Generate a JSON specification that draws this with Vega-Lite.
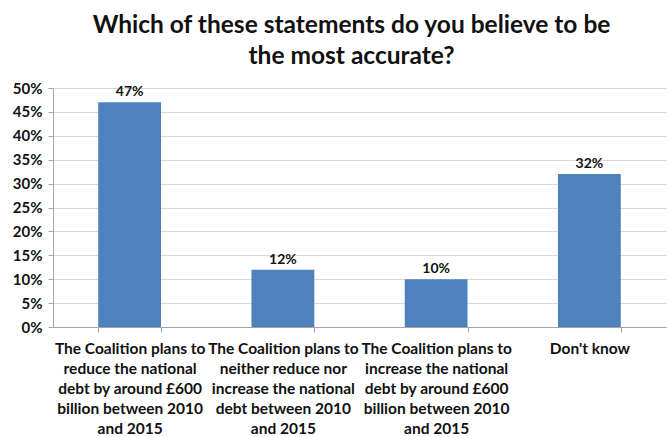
{
  "$schema": "https://vega.github.io/schema/vega-lite/v6.json",
  "width": 613,
  "height": 239,
  "autosize": {"type": "none"},
  "padding": {"left": 53, "top": 88, "right": 1, "bottom": 110},
  "background": "white",
  "title": {
    "text": ["Which of these statements do you believe to be", "the most accurate?"],
    "font": "Lato",
    "fontSize": 24.5,
    "fontWeight": "bold",
    "color": "#111111",
    "lineHeight": 31,
    "anchor": "middle",
    "dx": -8,
    "offset": 12
  },
  "data": {
    "values": [
      {"statement": "The Coalition plans to|reduce the national|debt by around £600|billion between 2010|and 2015", "share": 0.47, "order": 1},
      {"statement": "The Coalition plans to|neither reduce nor|increase the national|debt between 2010|and 2015", "share": 0.12, "order": 2},
      {"statement": "The Coalition plans to|increase the national|debt by around £600|billion between 2010|and 2015", "share": 0.10, "order": 3},
      {"statement": "Don't know", "share": 0.32, "order": 4}
    ]
  },
  "encoding": {
    "x": {
      "field": "statement",
      "type": "nominal",
      "sort": {"field": "order"},
      "scale": {"paddingInner": 0.59, "paddingOuter": 0.295},
      "axis": {
        "title": null,
        "labelAngle": 0,
        "labelExpr": "split(datum.label, '|')",
        "labelFont": "Lato",
        "labelFontSize": 15.5,
        "labelFontWeight": "bold",
        "labelColor": "#111111",
        "labelLineHeight": 20,
        "labelPadding": 9,
        "labelLimit": 0,
        "tickBand": "extent",
        "tickColor": "#a6a6a6",
        "tickSize": 5,
        "domainColor": "#a6a6a6",
        "grid": false
      }
    },
    "y": {
      "field": "share",
      "type": "quantitative",
      "scale": {"domain": [0, 0.5]},
      "axis": {
        "title": null,
        "format": ".0%",
        "values": [0, 0.05, 0.1, 0.15, 0.2, 0.25, 0.3, 0.35, 0.4, 0.45, 0.5],
        "labelFont": "Lato",
        "labelFontSize": 15,
        "labelFontWeight": "bold",
        "labelColor": "#111111",
        "labelPadding": 6,
        "tickColor": "#a6a6a6",
        "tickSize": 5,
        "domainColor": "#a6a6a6",
        "gridColor": "#d9d9d9"
      }
    }
  },
  "layer": [
    {"mark": {"type": "bar", "color": "#4F81BD"}},
    {
      "mark": {"type": "text", "dy": -10, "font": "Lato", "fontSize": 14, "fontWeight": "bold", "color": "#111111"},
      "encoding": {"text": {"field": "share", "type": "quantitative", "format": ".0%"}}
    }
  ],
  "config": {"view": {"stroke": null}}
}
